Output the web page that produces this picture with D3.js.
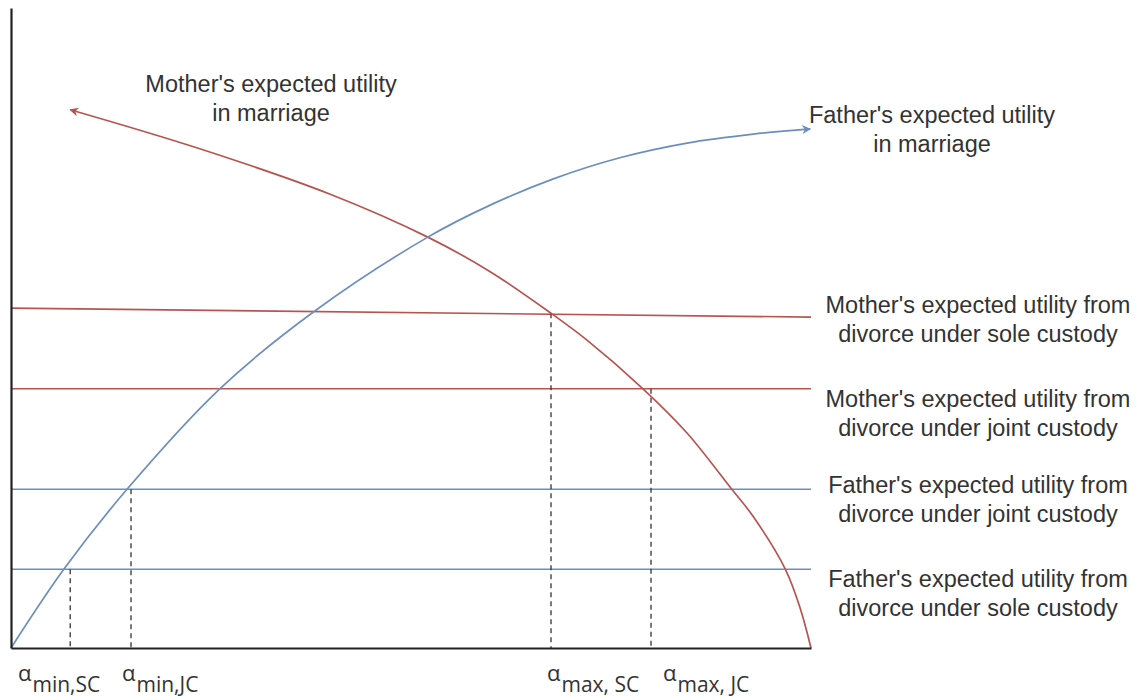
<!DOCTYPE html>
<html>
<head>
<meta charset="utf-8">
<script src="https://cdn.jsdelivr.net/npm/d3@7/dist/d3.min.js"></script>
<style>
  body { margin: 0; background: #fff; }
  text { fill: #333; }
</style>
</head>
<body>
<div id="chart"></div>
<script>
// x = alpha (share), y = expected utility, both on a 0-100 scale
var motherMarriage = [[7.4,84.1],[23.6,78.0],[39.9,70.9],[52.1,64.2],[59.9,58.8],[67.5,52.3],[72,48.1],
  [79,40.5],[84.5,33.6],[90.1,24.8],[92.8,20.5],[96.8,12.3],[98.6,6.4],[100,0]]
var fatherMarriage = [[0,0],[6.6,12.3],[14.5,24.8],[26.1,40.5],[37.8,52.5],[52.1,64.2],[59.9,69.2],
  [67.8,73.3],[76.1,76.6],[84.5,78.9],[92.8,80.3],[99.9,81.1]]

var divorceNames = [
  ["Mother's expected utility from", "divorce under sole custody"],
  ["Mother's expected utility from", "divorce under joint custody"],
  ["Father's expected utility from", "divorce under joint custody"],
  ["Father's expected utility from", "divorce under sole custody"]
]
var divorceStart = [53.1, 40.5, 24.8, 12.3]   // utility at alpha = 0
var divorceEnd = [51.7, 40.5, 24.8, 12.3]     // utility at alpha = 100
var divorceParent = ['mother', 'mother', 'father', 'father']

var alphaSubs = ['min,SC', 'min,JC', 'max, SC', 'max, JC']
var alphaValues = [7.4, 15, 67.5, 80]
var alphaUtility = [12.3, 24.8, 52.3, 40.5]

var marriageNames = [
  ["Mother's expected utility", "in marriage"],
  ["Father's expected utility", "in marriage"]
]

var colors = { mother: '#b85450', father: '#6c8ebf' }

var W = 1141, H = 700
var x = d3.scaleLinear().domain([0, 100]).range([11, 811])
var y = d3.scaleLinear().domain([0, 100]).range([648, 8])

var svg = d3.select('#chart').append('svg')
  .attr('width', W).attr('height', H)
  .style('font-family', '"Liberation Sans", Arial, sans-serif')

// arrowheads
var defs = svg.append('defs')
;['mother', 'father'].forEach(function(k) {
  defs.append('marker')
    .attr('id', 'arrow-' + k)
    .attr('viewBox', '0 0 10 10')
    .attr('refX', 9).attr('refY', 5)
    .attr('markerUnits', 'userSpaceOnUse')
    .attr('markerWidth', 10).attr('markerHeight', 9)
    .attr('orient', 'auto-start-reverse')
    .append('path')
      .attr('d', 'M0,0 L10,5 L0,10 L3,5 z')
      .attr('fill', colors[k])
})

// divorce utility levels
svg.selectAll('line.divorce')
  .data(divorceStart)
  .enter().append('line')
    .attr('class', 'divorce')
    .attr('x1', x(0)).attr('x2', x(100))
    .attr('y1', function(d) { return y(d) })
    .attr('y2', function(d, i) { return y(divorceEnd[i]) })
    .attr('stroke', function(d, i) { return colors[divorceParent[i]] })
    .attr('stroke-width', 1.6)

// dashed drops to the alpha thresholds
svg.selectAll('line.drop')
  .data(alphaValues)
  .enter().append('line')
    .attr('class', 'drop')
    .attr('x1', function(d) { return x(d) }).attr('x2', function(d) { return x(d) })
    .attr('y1', function(d, i) { return y(alphaUtility[i]) })
    .attr('y2', y(0))
    .attr('stroke', '#333')
    .attr('stroke-width', 1.3)
    .attr('stroke-dasharray', '5,4')

var line = d3.line()
  .x(function(d) { return x(d[0]) })
  .y(function(d) { return y(d[1]) })
  .curve(d3.curveCatmullRom.alpha(0.5))

svg.append('path')
  .datum(motherMarriage)
  .attr('d', line)
  .attr('fill', 'none')
  .attr('stroke', colors.mother)
  .attr('stroke-width', 1.7)
  .attr('marker-start', 'url(#arrow-mother)')

svg.append('path')
  .datum(fatherMarriage)
  .attr('d', line)
  .attr('fill', 'none')
  .attr('stroke', colors.father)
  .attr('stroke-width', 1.7)
  .attr('marker-end', 'url(#arrow-father)')

// axes, no ticks
svg.append('g')
  .attr('transform', 'translate(0,' + y(0) + ')')
  .call(d3.axisBottom(x).ticks(0).tickSizeOuter(0))
  .select('.domain').attr('stroke', '#222').attr('stroke-width', 2.2)
svg.append('g')
  .attr('transform', 'translate(' + x(0) + ',0)')
  .call(d3.axisLeft(y).ticks(0).tickSizeOuter(0))
  .select('.domain').attr('stroke', '#222').attr('stroke-width', 2.2)

function block(g, lines, cx, baseline) {
  var t = g.append('text')
    .attr('text-anchor', 'middle')
    .attr('font-size', 23.5)
  lines.forEach(function(s, i) {
    t.append('tspan').attr('x', cx).attr('y', baseline + i * 28.5).text(s)
  })
}

// curve labels
block(svg, marriageNames[0], 271, 92)
block(svg, marriageNames[1], 932, 123)

// divorce labels on the right
var rightBase = [313, 407, 493, 587]
divorceNames.forEach(function(lines, i) {
  block(svg, lines, 978, rightBase[i])
})

// alpha threshold labels under the axis
var alphaLeft = [18, 122, 547, 663]
alphaSubs.forEach(function(s, i) {
  var t = svg.append('text')
    .attr('x', alphaLeft[i]).attr('y', 681)
    .style('font-family', '"Open Sans", "DejaVu Sans", sans-serif')
    .attr('font-size', 22)
  t.append('tspan').text('\u03b1')
  t.append('tspan').attr('dy', 11).attr('dx', 1).attr('font-size', 21).text(s)
})
</script>
</body>
</html>
